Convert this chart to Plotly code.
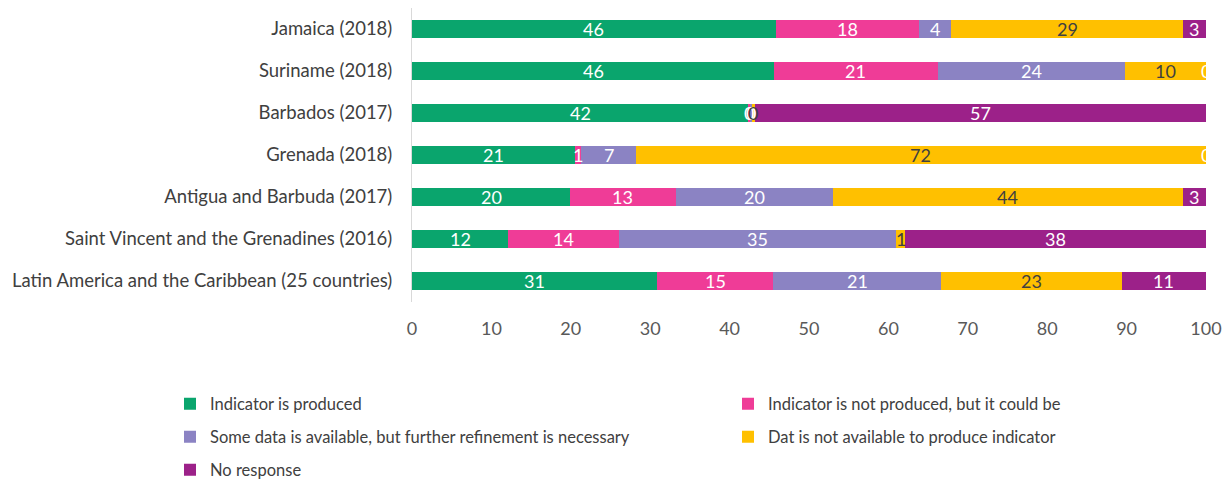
import plotly.graph_objects as go

countries = [
    "Jamaica (2018)",
    "Suriname (2018)",
    "Barbados (2017)",
    "Grenada (2018)",
    "Antigua and Barbuda (2017)",
    "Saint Vincent and the Grenadines (2016)",
    "Latin America and the Caribbean (25 countries)",
]

produced = [45.8, 45.6, 42.4, 20.5, 19.9, 12.1, 30.9]
could_be = [18.1, 20.6, 0.2, 0.8, 13.3, 14.0, 14.6]
some_data = [4.0, 23.6, 0.2, 6.9, 19.8, 34.9, 21.1]
not_available = [29.2, 10.2, 0.4, 71.8, 44.1, 1.1, 22.8]
no_response = [2.9, 0.0, 56.8, 0.0, 2.9, 37.9, 10.6]

series = [
    ("Indicator is produced", produced, "#0AA56D", "white"),
    ("Indicator is not produced, but it could be", could_be, "#EF3C97", "white"),
    ("Some data is available, but further refinement is necessary", some_data, "#8B83C3", "white"),
    ("Dat is not available to produce indicator", not_available, "#FFC000", "#404040"),
    ("No response", no_response, "#9C2189", "white"),
]

# two-column legend below the chart: (left px of legend box, row centre px)
legend_spots = [(170, 404), (728, 404), (170, 437), (728, 437), (170, 470)]

FONT = "Lato, Open Sans, sans-serif"

fig = go.Figure()
annotations = []
legends = {}
base = [0.0] * len(countries)
for k, (name, vals, color, txtcolor) in enumerate(series):
    leg = "legend" if k == 0 else f"legend{k + 1}"
    fig.add_trace(
        go.Bar(
            y=countries,
            x=vals,
            name=name,
            orientation="h",
            marker=dict(color=color, line=dict(width=0)),
            legend=leg,
            hoverinfo="skip",
        )
    )
    lx, ly = legend_spots[k]
    legends[leg] = dict(
        xref="container",
        yref="container",
        x=lx / 1231,
        y=1 - ly / 482,
        xanchor="left",
        yanchor="middle",
        font=dict(size=16.5, color="#404040", family=FONT),
        itemwidth=30,
        bgcolor="rgba(0,0,0,0)",
    )
    # value labels centred in each segment (Excel-style, never shrunk)
    for i, v in enumerate(vals):
        annotations.append(
            dict(
                x=min(base[i] + v / 2, 100),  # float sums can creep past the axis end
                y=countries[i],
                xref="x",
                yref="y",
                text=str(int(v + 0.5)),
                showarrow=False,
                font=dict(color=txtcolor, size=18, family=FONT),
            )
        )
        base[i] += v

fig.update_layout(
    barmode="stack",
    bargap=0.57,
    width=1231,
    height=482,
    margin=dict(l=412, r=25, t=8, b=180, autoexpand=False),
    plot_bgcolor="white",
    paper_bgcolor="white",
    font=dict(family=FONT, size=18, color="#404040"),
    annotations=annotations,
    xaxis=dict(
        range=[0, 100],
        dtick=10,
        showgrid=False,
        zeroline=False,
        showline=False,
        ticks="",
        tickfont=dict(size=18, color="#595959"),
        ticklabelstandoff=14,
    ),
    yaxis=dict(
        autorange="reversed",
        showgrid=False,
        showline=True,
        linecolor="#D9D9D9",
        linewidth=1,
        ticks="",
        ticklabelstandoff=15,
        tickfont=dict(size=18.5, color="#404040"),
    ),
    showlegend=True,
    **legends,
)

fig.write_html(
    "out.html",
    config={"displayModeBar": False},
    post_script="document.body.style.margin='0';",
)
